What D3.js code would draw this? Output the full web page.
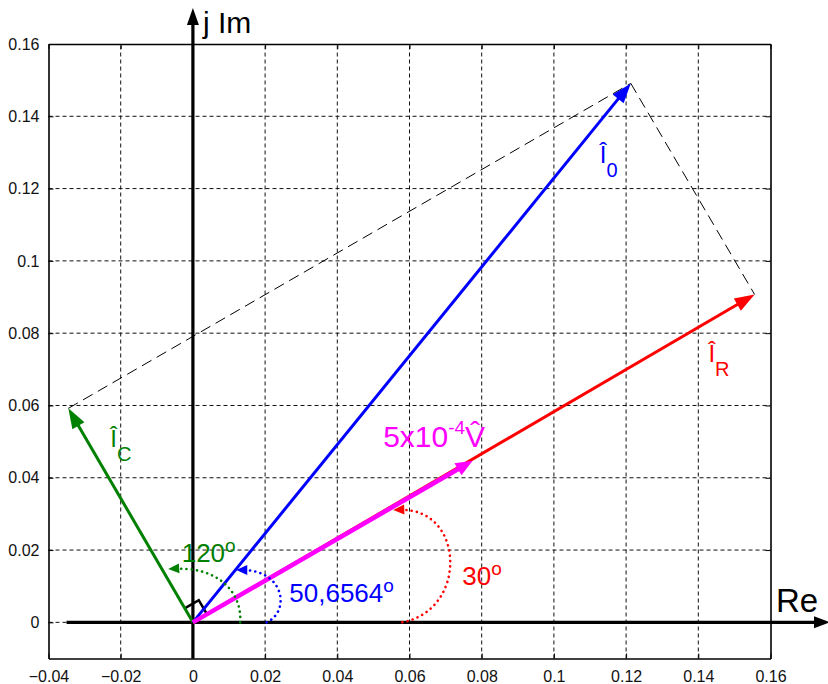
<!DOCTYPE html>
<html>
<head>
<meta charset="utf-8">
<script src="https://cdn.jsdelivr.net/npm/d3@7"></script>
<style>
  body { margin: 0; background: #fff; }
  svg text { font-family: "Liberation Sans", Arial, sans-serif; }
</style>
</head>
<body>
<svg id="chart" width="828" height="684"></svg>
<script>
// ---- data ----
const xTicks = [-0.04, -0.02, 0, 0.02, 0.04, 0.06, 0.08, 0.1, 0.12, 0.14, 0.16];
const yTicks = [0, 0.02, 0.04, 0.06, 0.08, 0.1, 0.12, 0.14, 0.16];

// phasors (real, imaginary)
const vecNames = ["IR", "IC", "I0", "V"];
const vecRe = [0.1556, -0.0345, 0.1213, 0.0775];
const vecIm = [0.0907, 0.0592, 0.1491, 0.0447];

// angle arcs: cubic curves, start / ctrl1 / ctrl2 / end (real, imag)
const arcNames = ["120", "50,6564", "30"];
const arcRe = [
  [0.0131, 0.01366, 0.00618, -0.00684],
  [0.0204, 0.02695, 0.02557, 0.0120],
  [0.0580, 0.0763, 0.0754, 0.0555]
];
const arcIm = [
  [0, 0.00894, 0.01557, 0.01474],
  [0, 0.00285, 0.01447, 0.01447],
  [0, 0.0034, 0.0319, 0.0311]
];

const rightAngleSize = 0.0045;

// ---- styles ----
const colors = { IR: "#ff0000", IC: "#008000", I0: "#0000ff", V: "#ff00ff" };
const widths = { IR: 3, IC: 3, I0: 3, V: 4.5 };
const arcColors = ["#008000", "#0000ff", "#ff0000"];

const svg = d3.select("#chart");
const x = d3.scaleLinear().domain([-0.04, 0.16]).range([48.5, 770.5]);
const y = d3.scaleLinear().domain([-0.01, 0.16]).range([658.5, 44]);

// grid
const g = svg.append("g");
g.selectAll("line.gx").data(xTicks.slice(1, -1)).enter().append("line")
  .attr("x1", d => x(d)).attr("x2", d => x(d))
  .attr("y1", y(-0.01)).attr("y2", y(0.16))
  .style("stroke", "#111").style("stroke-width", 1).style("stroke-dasharray", "4,3");
g.selectAll("line.gy").data(yTicks.slice(0, -1)).enter().append("line")
  .attr("y1", d => y(d)).attr("y2", d => y(d))
  .attr("x1", x(-0.04)).attr("x2", x(0.16))
  .style("stroke", "#111").style("stroke-width", 1).style("stroke-dasharray", "4,3");

// axes with ticks (box)
const xAxis = d3.axisBottom(x).tickValues(xTicks).tickSizeInner(-5).tickSizeOuter(0)
  .tickPadding(12).tickFormat(d3.format("~g"));
const yAxis = d3.axisLeft(y).tickValues(yTicks).tickSizeInner(-5).tickSizeOuter(0)
  .tickPadding(9).tickFormat(d3.format("~g"));
const gx = svg.append("g").attr("transform", "translate(0," + y(-0.01) + ")").call(xAxis);
const gy = svg.append("g").attr("transform", "translate(" + x(-0.04) + ",0)").call(yAxis);
svg.append("g").attr("transform", "translate(0," + y(0.16) + ")")
  .call(d3.axisTop(x).tickValues(xTicks).tickSizeInner(-5).tickSizeOuter(0).tickFormat(""));
svg.append("g").attr("transform", "translate(" + x(0.16) + ",0)")
  .call(d3.axisRight(y).tickValues(yTicks).tickSizeInner(-5).tickSizeOuter(0).tickFormat(""));
svg.selectAll(".domain").style("stroke", "#000").style("stroke-width", 1.6);
svg.selectAll(".tick line").style("stroke", "#000");
[gx, gy].forEach(a => a.selectAll("text").style("font-size", "16px").style("fill", "#111"));

function arrowHead(tx, ty, ux, uy, len, half) {
  const bx = tx - ux * len, by = ty - uy * len;
  return [[tx, ty], [bx - uy * half, by + ux * half], [bx + uy * half, by - ux * half]];
}

// Re / j Im axes
const reStart = x(-0.035), reEnd = 830;
svg.append("line").attr("x1", reStart).attr("x2", reEnd - 12).attr("y1", y(0)).attr("y2", y(0))
  .style("stroke", "#000").style("stroke-width", 3.2);
svg.append("polygon").attr("points", arrowHead(reEnd, y(0), 1, 0, 16, 6).join(" ")).style("fill", "#000");
const imTop = 8;
svg.append("line").attr("x1", x(0)).attr("x2", x(0)).attr("y1", y(-0.01)).attr("y2", imTop + 12)
  .style("stroke", "#000").style("stroke-width", 3.2);
svg.append("polygon").attr("points", arrowHead(x(0), imTop, 0, -1, 17, 6).join(" ")).style("fill", "#000");
svg.append("text").attr("x", x(0) + 10).attr("y", 33).text("j Im")
  .style("font-size", "30px").style("fill", "#000");
svg.append("text").attr("x", 776).attr("y", 612).text("Re")
  .style("font-size", "33px").style("fill", "#000");

// parallelogram construction lines
const iR = vecNames.indexOf("IR"), iC = vecNames.indexOf("IC"), i0 = vecNames.indexOf("I0");
const construct = [[iC, i0], [i0, iR]];
svg.selectAll("line.cons").data(construct).enter().append("line")
  .attr("x1", d => x(vecRe[d[0]])).attr("y1", d => y(vecIm[d[0]]))
  .attr("x2", d => x(vecRe[d[1]])).attr("y2", d => y(vecIm[d[1]]))
  .style("stroke", "#000").style("stroke-width", 1).style("stroke-dasharray", "11,6");

// right-angle mark between I_C and I_R
(function () {
  const mC = Math.hypot(vecRe[iC], vecIm[iC]), mR = Math.hypot(vecRe[iR], vecIm[iR]);
  const a = [vecRe[iC] / mC * rightAngleSize, vecIm[iC] / mC * rightAngleSize];
  const b = [vecRe[iR] / mR * rightAngleSize, vecIm[iR] / mR * rightAngleSize];
  const pts = [a, [a[0] + b[0], a[1] + b[1]], b];
  svg.append("path").attr("d", d3.line().x(p => x(p[0])).y(p => y(p[1]))(pts))
    .style("fill", "none").style("stroke", "#000").style("stroke-width", 2.5);
})();

// phasor arrows
const drawOrder = ["IR", "IC", "I0", "V"];
drawOrder.forEach(function (name) {
  const i = vecNames.indexOf(name);
  const x0 = x(0), y0 = y(0), tx = x(vecRe[i]), ty = y(vecIm[i]);
  const L = Math.hypot(tx - x0, ty - y0), ux = (tx - x0) / L, uy = (ty - y0) / L;
  const head = name === "V" ? 17 : 20;
  svg.append("line").attr("x1", x0).attr("y1", y0)
    .attr("x2", tx - ux * (head - 2)).attr("y2", ty - uy * (head - 2))
    .style("stroke", colors[name]).style("stroke-width", widths[name]);
  svg.append("polygon").attr("points", arrowHead(tx, ty, ux, uy, head, 7).join(" "))
    .style("fill", colors[name]);
});

// angle arcs (dotted, with small arrowhead)
arcNames.forEach(function (name, k) {
  const p = arcRe[k].map((v, j) => [x(v), y(arcIm[k][j])]);
  const path = d3.path();
  path.moveTo(p[0][0], p[0][1]);
  path.bezierCurveTo(p[1][0], p[1][1], p[2][0], p[2][1], p[3][0] + 6, p[3][1]);
  svg.append("path").attr("d", path.toString())
    .style("fill", "none").style("stroke", arcColors[k]).style("stroke-width", 2.6)
    .style("stroke-linecap", "round").style("stroke-dasharray", "0.1,5.2");
  const dx = p[3][0] - p[2][0], dy = p[3][1] - p[2][1], l = Math.hypot(dx, dy);
  svg.append("polygon").attr("points", arrowHead(p[3][0], p[3][1], dx / l, dy / l, 11, 5).join(" "))
    .style("fill", arcColors[k]);
});

// labels
function hatLabel(px, py, color, sub) {
  const t = svg.append("text").attr("x", px).attr("y", py).style("fill", color).style("font-size", "24px");
  t.append("tspan").text("\u00CE");
  t.append("tspan").attr("dy", 14).style("font-size", "20px").text(sub);
}
hatLabel(x(-0.0229), y(0.0485), colors.IC, "C");
hatLabel(x(0.1428), y(0.0720), colors.IR, "R");
hatLabel(x(0.1127), y(0.1270), colors.I0, "0");

// 5x10^-4 V-hat
(function () {
  const t = svg.append("text").attr("x", x(0.0527)).attr("y", y(0.0485))
    .style("fill", colors.V).style("font-size", "30px");
  t.append("tspan").text("5x10");
  t.append("tspan").attr("dy", -13).style("font-size", "19px").text("-4");
  t.append("tspan").attr("dy", 13).text("V\u0302");
})();

// degree labels
const degPos = [[-0.0031, 0.0167], [0.0267, 0.0056], [0.0746, 0.0103]];
arcNames.forEach(function (name, k) {
  const t = svg.append("text").attr("x", x(degPos[k][0])).attr("y", y(degPos[k][1]))
    .style("fill", arcColors[k]).style("font-size", "26px");
  t.append("tspan").text(name);
  t.append("tspan").attr("dy", -10).style("font-size", "19px").text("o");
});
</script>
</body>
</html>
